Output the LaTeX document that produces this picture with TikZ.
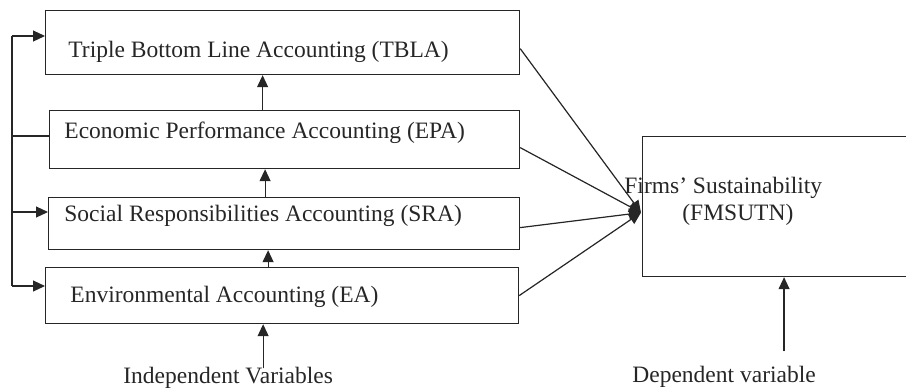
\documentclass[tikz,border=0pt]{standalone}
\usepackage{fontspec}
\setmainfont{Liberation Serif}
\usetikzlibrary{positioning, arrows.meta}

\tikzset{
    box/.style={draw=black!85, line width=0.6pt, inner sep=0pt, anchor=north west},
    lbl/.style={inner sep=0pt, anchor=base west, text=black!85, font=\fontsize{11.75}{13}\selectfont},
    arr/.style={draw=black!85, fill=black!85, line width=0.6pt, -{Triangle[length=6pt, width=5.5pt]}},
    link/.style={draw=black!85, line width=0.6pt}
}

\begin{document}
\begin{tikzpicture}[x=0.5pt, y=-0.5pt]
    \useasboundingbox (0,0) rectangle (906,387);
    \clip (0,0) rectangle (906,387);

    % Independent variable boxes
    \node[box, minimum width=237pt, minimum height=32pt] (tbla) at (45,10) {};
    \node[box, minimum width=235pt, minimum height=29pt] (epa) at (49,110) {};
    \node[box, minimum width=235.5pt, minimum height=26pt] (sra) at (48,197) {};
    \node[box, minimum width=236.5pt, minimum height=28pt] (ea) at (45,267) {};

    \node[lbl] (tblatxt) at (68,57) {Triple Bottom Line Accounting (TBLA)};
    \node[lbl] (epatxt) at (64,138) {Economic Performance Accounting (EPA)};
    \node[lbl] (sratxt) at (64,221) {Social Responsibilities Accounting (SRA)};
    \node[lbl] (eatxt) at (70,302) {Environmental Accounting (EA)};
    \node[lbl] (indep) at (123,383) {Independent Variables};

    % Dependent variable box
    \node[box, minimum width=170pt, minimum height=70pt] (fms) at (642,136) {};
    \node[lbl] (fmstxt) at (624,193) {Firms’ Sustainability};
    \node[lbl] (fmsabbr) at (682,220) {(FMSUTN)};
    \node[lbl] (dep) at (632,382) {Dependent variable};

    % Upward chain
    \draw[arr] ([xshift=-11pt]epa.north) -- ([xshift=-11pt]epa.north |- tbla.south);
    \draw[arr] ([xshift=-9.5pt]sra.north) -- ([xshift=-9.5pt]sra.north |- epa.south);
    \draw[arr] ([xshift=-7pt]ea.north) -- ([xshift=-7pt]ea.north |- sra.south);
    \draw[arr] ([xshift=17.5pt, yshift=-1pt]indep.north) -- ([xshift=17.5pt]indep.north |- ea.south);

    % Left feedback line
    \coordinate (bustop) at (12,36);
    \coordinate (busepa) at (12,136);
    \coordinate (bussra) at (12,212);
    \coordinate (busbot) at (12,286);
    \draw[link] (bustop) -- (busbot);
    \draw[arr] (bustop) -- (bustop -| tbla.west);
    \draw[link] (busepa) -- (busepa -| epa.west);
    \draw[arr] (bussra) -- (bussra -| sra.west);
    \draw[arr] (busbot) -- (busbot -| ea.west);

    % Converging arrows
    \coordinate (hub) at ([xshift=-0.5pt, yshift=-3pt]fms.west);
    \draw[arr] ([yshift=-3pt]tbla.east) -- (hub);
    \draw[arr] ([yshift=-4pt]epa.east) -- (hub);
    \draw[arr] ([yshift=-2pt]sra.east) -- (hub);
    \draw[arr] (ea.east) -- (hub);

    \coordinate (depfoot) at ([xshift=30pt, yshift=7pt]dep.north);
    \draw[arr] (depfoot) -- (depfoot |- fms.south);
\end{tikzpicture}
\end{document}
